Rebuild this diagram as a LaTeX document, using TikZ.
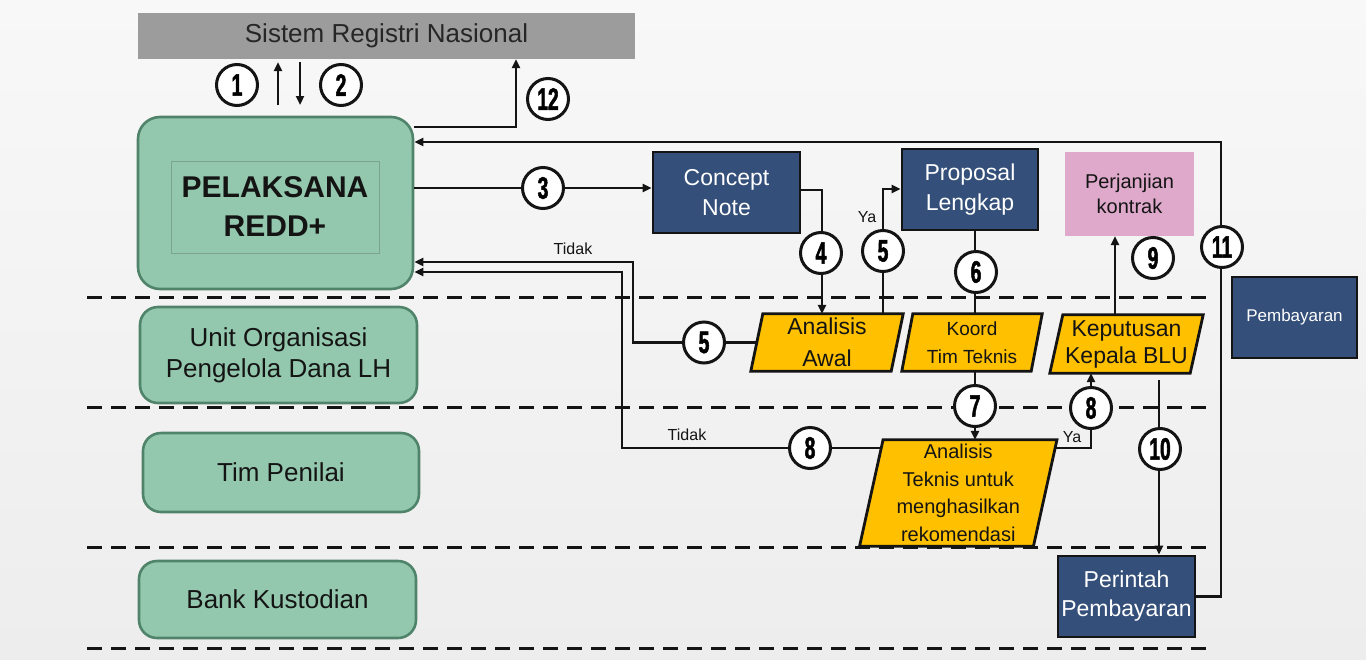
\documentclass[tikz,border=0pt]{standalone}
\usepackage{fontspec}
\setmainfont{Liberation Sans}
\newfontfamily\badgefont{Liberation Sans}[FakeStretch=0.62,FakeBold=1.6]
\usetikzlibrary{arrows.meta,calc}
\pgfdeclarelayer{paper}
\pgfdeclarelayer{fills}
\pgfsetlayers{paper,fills,main}

\definecolor{lanegreen}{RGB}{148,200,174}
\definecolor{laneedge}{RGB}{80,132,106}
\definecolor{navy}{RGB}{52,79,121}
\definecolor{amber}{RGB}{255,192,0}
\definecolor{rose}{RGB}{222,169,202}
\definecolor{bargray}{RGB}{156,156,156}
\definecolor{ink}{RGB}{20,20,20}
\definecolor{bartext}{RGB}{38,38,38}

\tikzset{
  >={Triangle[length=9pt,width=8pt]},
  lane/.style={draw=laneedge, line width=2.6pt, fill=lanegreen, rounded corners=18pt,
    align=center, text=ink, inner sep=0pt, font={\fontsize{26}{31}\selectfont}},
  navybox/.style={draw=ink, line width=2.8pt, fill=navy, text=white, align=center,
    inner sep=0pt, font={\fontsize{23}{30}\selectfont}},
  slanttext/.style={inner sep=0pt, align=center, text=ink},
  conn/.style={draw=ink, line width=2.8pt},
  badge/.style={circle, draw=ink, line width=3pt, fill=white, minimum size=41pt,
    inner sep=0pt, font={\badgefont\bfseries\fontsize{31}{31}\selectfont}},
  lbl/.style={inner sep=0pt, text=ink, font={\fontsize{16}{18}\selectfont}},
  lanesep/.style={draw=ink, line width=3pt, dash pattern=on 15pt off 9pt},
}

% amber parallelogram behind a text node
\newcommand\slantfill[2]{%
  \begin{pgfonlayer}{fills}
    \draw[line width=2.8pt, draw=ink, fill=amber, line join=miter]
      ([xshift=#2pt]#1.north west) -- ([xshift=#2pt]#1.north east)
      -- ([xshift=-#2pt]#1.south east) -- ([xshift=-#2pt]#1.south west) -- cycle;
  \end{pgfonlayer}}

\begin{document}
\begin{tikzpicture}[x=1pt,y=-1pt]
\useasboundingbox (0,0) rectangle (1366,659);

\begin{pgfonlayer}{paper}
  \shade[top color={rgb,255:red,248;green,248;blue,248}, bottom color={rgb,255:red,237;green,237;blue,237}]
    (0,0) rectangle (1366,659);
  % swimlane separators
  \draw[lanesep] (87,297) -- (1213,297);
  \draw[lanesep] (87,407) -- (1213,407);
  \draw[lanesep] (87,547) -- (1213,547);
  \draw[lanesep] (87,648) -- (1213,648);
\end{pgfonlayer}

% registry bar
\node[fill=bargray, minimum width=497pt, minimum height=46pt, inner sep=0pt, text=bartext,
      font={\fontsize{26}{30}\selectfont}] (srn) at (386.5,36) {Sistem Registri Nasional};

% lanes
\node[lane, minimum width=275pt, minimum height=172pt, rounded corners=22pt] (pel) at (275.5,203) {};
\node[draw=laneedge!75, line width=1pt, minimum width=208pt, minimum height=92pt, inner sep=0pt,
      align=center, text=ink, font={\bfseries\fontsize{30}{39}\selectfont}] (pelin) at (275,207) {PELAKSANA\\REDD+};
\node[lane, minimum width=277pt, minimum height=96pt] (unit) at (278.5,355) {Unit Organisasi\\Pengelola Dana LH};
\node[lane, minimum width=276pt, minimum height=79pt] (tim) at (281,472.5) {Tim Penilai};
\node[lane, minimum width=277pt, minimum height=77pt] (bank) at (277.5,599.5) {Bank Kustodian};

% documents
\node[navybox, minimum width=147pt, minimum height=81pt] (cn) at (726.5,192.5) {Concept\\Note};
\node[navybox, minimum width=136pt, minimum height=81pt] (pl) at (970,189.5) {Proposal\\Lengkap};
\node[fill=rose, minimum width=129pt, minimum height=84pt, inner sep=0pt, align=center, text=ink,
      font={\fontsize{20}{25}\selectfont}] (pk) at (1129.5,194) {Perjanjian\\kontrak};
\node[navybox, minimum width=125pt, minimum height=81pt, font={\fontsize{17}{20}\selectfont}] (pb) at (1294.5,317.5) {Pembayaran};
\node[navybox, minimum width=137pt, minimum height=81pt, font={\fontsize{23}{29}\selectfont}] (pp) at (1126.5,596.5) {Perintah\\Pembayaran};

% process steps
\node[slanttext, minimum width=140pt, minimum height=57pt, font={\fontsize{23}{32}\selectfont}] (aa) at (827,342.5) {Analisis\\Awal};
\slantfill{aa}{6}
\node[slanttext, minimum width=129pt, minimum height=57pt, font={\fontsize{19}{28}\selectfont}] (kt) at (972,342.5) {Koord\\Tim Teknis};
\slantfill{kt}{5.5}
\node[slanttext, minimum width=140pt, minimum height=58pt, font={\fontsize{23}{27}\selectfont}] (kb) at (1126.5,344) {Keputusan\\Kepala BLU};
\slantfill{kb}{6.5}
\node[slanttext, minimum width=173.5pt, minimum height=106pt, font={\fontsize{20}{27.5}\selectfont}] (at) at (958.25,493) {Analisis\\Teknis untuk\\menghasilkan\\rekomendasi};
\slantfill{at}{11.75}

% connector bends
\coordinate (a1) at (278,105);
\coordinate (a2) at (300,105);
\coordinate (k12) at (516,127);
\coordinate (k11) at (1221,142);
\coordinate (y3) at (0,188);
\coordinate (k4) at (822,190);
\coordinate (k5) at (883,189);
\coordinate (k6) at (975,0);
\coordinate (k5t) at (633,262);
\coordinate (k8t) at (622,272);
\coordinate (k8a) at (881,448);
\coordinate (k8b) at (1055,448);
\coordinate (k8y) at (1091,448);
\coordinate (k9) at (1115,0);
\coordinate (k10) at (1159,380);

% connectors
\draw[conn,->,shorten >=3pt] (a1) -- (a1 |- srn.south);
\draw[conn,->,shorten <=3pt] (a2 |- srn.south) -- (a2);
\draw[conn,->] (pel.east |- k12) -- (k12) -- (k12 |- srn.south);
\draw[conn,->] (pp.east) -| (k11) -- (pel.east |- k11);
\draw[conn,->] (pel.east |- y3) -- (cn.west |- y3);
\draw[conn,->] (cn.east |- k4) -- (k4) -- (k4 |- aa.north);
\draw[conn,->] (k5 |- aa.north) -- (k5) -- (pl.west |- k5);
\draw[conn] (pl.south -| k6) -- (kt.north -| k6);
\draw[conn,->] (kt.south -| k6) -- (at.north -| k6);
\draw[conn,->] (aa.west) -- (aa.west -| k5t) -- (k5t) -- (pel.east |- k5t);
\draw[conn,->] (k8a) -- (k8a -| k8t) -- (k8t) -- (pel.east |- k8t);
\draw[conn,->] (k8b) -- (k8y) -- (k8y |- kb.south);
\draw[conn,->] (kb.north -| k9) -- (pk.south -| k9);
\draw[conn,->] (k10) -- (k10 |- pp.north);

% branch labels
\node[lbl] (tidak1) at (573,249) {Tidak};
\node[lbl] (tidak2) at (687,435) {Tidak};
\node[lbl] (ya1) at (867,217) {Ya};
\node[lbl] (ya2) at (1072,437) {Ya};

% step numbers
\node[badge] (b1) at (237,85) {1};
\node[badge] (b2) at (341,85) {2};
\node[badge] (b12) at (548,99) {12};
\node[badge] (b3) at (543,188) {3};
\node[badge] (b4) at (821,253) {4};
\node[badge] (b5a) at (883,251) {5};
\node[badge] (b6) at (976,272) {6};
\node[badge] (b5b) at (704,342.5) {5};
\node[badge] (b7) at (975,406) {7};
\node[badge] (b8a) at (810,448) {8};
\node[badge] (b8b) at (1091,408) {8};
\node[badge] (b9) at (1153,258) {9};
\node[badge] (b10) at (1160,449) {10};
\node[badge] (b11) at (1222,247) {11};
\end{tikzpicture}
\end{document}
